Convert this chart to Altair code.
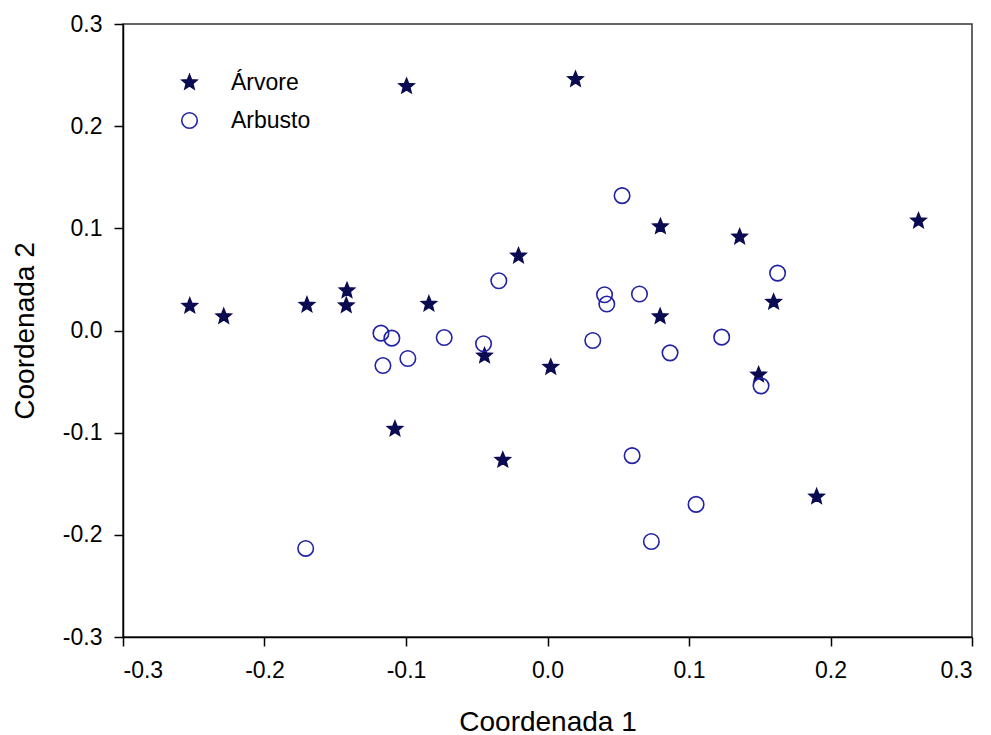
import math
import altair as alt
import pandas as pd

# Árvore (stars)
arvore_x = [-0.2528, -0.2288, -0.1700, -0.1417, -0.1422, -0.0838, -0.0996, -0.0445,
            -0.0205, 0.0198, 0.0798, 0.1358, 0.2622, 0.1598, 0.0796, 0.0023,
            0.1492, -0.0316, 0.1902, -0.1078]
arvore_y = [0.0240, 0.0137, 0.0250, 0.0390, 0.0245, 0.0260, 0.2390, -0.0248,
            0.0730, 0.2458, 0.1017, 0.0916, 0.1073, 0.0278, 0.0137, -0.0359,
            -0.0434, -0.1268, -0.1627, -0.0964]

# Arbusto (open circles)
arbusto_x = [-0.1177, -0.1100, -0.1163, -0.0987, -0.0730, -0.0452, -0.0344, 0.0527,
             0.0403, 0.0419, 0.0650, 0.0320, 0.0866, 0.1231, 0.1626, 0.1509,
             0.0598, 0.1050, 0.0734, -0.1709]
arbusto_y = [-0.0026, -0.0075, -0.0343, -0.0274, -0.0069, -0.0130, 0.0487, 0.1320,
             0.0350, 0.0259, 0.0357, -0.0098, -0.0219, -0.0065, 0.0562, -0.0542,
             -0.1225, -0.1702, -0.2065, -0.2133]

categories = ["Árvore", "Arbusto"]
tick_values = [-0.3, -0.2, -0.1, 0.0, 0.1, 0.2, 0.3]

df = pd.DataFrame({
    "c1": arvore_x + arbusto_x,
    "c2": arvore_y + arbusto_y,
    "tipo": [categories[0]] * len(arvore_x) + [categories[1]] * len(arbusto_x),
})

FONT = "Liberation Sans"
NAVY = "#0b0b52"
BLUE = "#2222a6"

# five-pointed star as a custom SVG symbol path (unit box -1..1)
pts = []
for k in range(10):
    ang = math.radians(-90 + 36 * k)
    r = 1.0 if k % 2 == 0 else 0.44
    pts.append(f"{r * math.cos(ang):.4f},{r * math.sin(ang):.4f}")
STAR = "M" + " L".join(pts) + " Z"

label_expr = "replace(format(datum.value, '.1f'), '\u2212', '-')"

leg = alt.Legend(
    title=None, orient="none", legendX=55, legendY=47,
    labelFont=FONT, labelFontSize=23, labelColor="black",
    labelOffset=30, rowPadding=14, symbolSize=240, symbolStrokeWidth=1.6,
)

common_axis = dict(
    values=tick_values, grid=False, labelExpr=label_expr,
    labelFont=FONT, labelFontSize=23, labelColor="black",
    titleFont=FONT, titleFontSize=28, titleFontWeight="normal", titleColor="black",
    domainColor="black", domainWidth=1.5, tickColor="black", tickWidth=1.5,
    tickSize=9,
)

chart = alt.Chart(df).mark_point(size=240, strokeWidth=1.6, opacity=1).encode(
    x=alt.X("c1:Q",
            scale=alt.Scale(domain=[-0.3, 0.3], nice=False, zero=False),
            axis=alt.Axis(title="Coordenada 1", labelPadding=13,
                          titleX=424.5, titleY=93, titleBaseline="alphabetic",
                          **common_axis)),
    y=alt.Y("c2:Q",
            scale=alt.Scale(domain=[-0.3, 0.3], nice=False, zero=False),
            axis=alt.Axis(title="Coordenada 2", labelPadding=12,
                          titleX=-90, titleY=306.5, titleAngle=270,
                          titleBaseline="alphabetic",
                          **common_axis)),
    shape=alt.Shape("tipo:N", scale=alt.Scale(domain=categories, range=[STAR, "circle"]), legend=leg),
    stroke=alt.Stroke("tipo:N", scale=alt.Scale(domain=categories, range=[NAVY, BLUE]), legend=leg),
    fill=alt.Fill("tipo:N", scale=alt.Scale(domain=categories, range=[NAVY, "transparent"]), legend=leg),
).properties(
    width=849, height=613,
    autosize=alt.AutoSizeParams(type="none"),
    padding={"left": 123, "top": 24, "right": 19, "bottom": 98},
    background="white",
).configure_view(
    stroke="#333333", strokeWidth=1.5
)

chart.save("out.html", embed_options={"renderer": "svg", "actions": False})
